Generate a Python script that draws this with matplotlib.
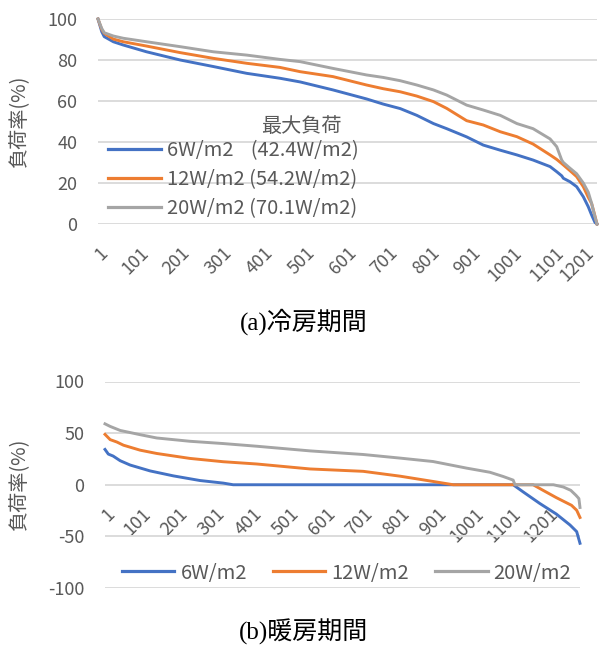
import matplotlib
matplotlib.use('Agg')
import matplotlib.pyplot as plt
from matplotlib.transforms import ScaledTranslation

plt.rcParams['font.family'] = ['Noto Sans CJK JP', 'DejaVu Sans']

# ---------------- data ----------------
series_names = ['6W/m2', '12W/m2', '20W/m2']
peak_loads = ['42.4W/m2', '54.2W/m2', '70.1W/m2']
legend_title = '最大負荷'
ylabel_text = '負荷率(%)'
title_cool = '(a)冷房期間'
title_heat = '(b)暖房期間'

# cooling period (sorted hours) ------------------------------------------
cool_n = 1203
cool_idx = [1, 10, 16, 38, 62, 118, 199, 279, 359, 439,
            488, 567, 648, 688, 729, 769, 809, 841, 889, 929,
            970, 1010, 1049, 1090, 1106, 1118, 1122, 1138, 1154, 1170,
            1182, 1190, 1198, 1203]
cool_6 = [100, 93.8, 91.4, 88.9, 87.3, 84, 80, 76.8, 73.5, 71.1,
          69.3, 65.4, 61, 58.5, 56.3, 53, 49, 46.5, 42.5, 38.5,
          36, 33.7, 31.2, 28, 25.5, 23.5, 22.3, 20.6, 18.2, 13.3,
          8.4, 4.4, 0.8, 0]
cool_12 = [100, 94.9, 93, 90.2, 88.9, 86.8, 83.6, 80.8, 78.4, 76.4,
           74.3, 71.9, 67.8, 66, 64.5, 62.4, 59.7, 56.4, 50.4, 48.3,
           45, 42.6, 39, 33.7, 31.5, 29.5, 28.8, 26, 23.1, 18.2,
           13, 10, 4, 0]
cool_20 = [100, 95.4, 93.3, 91.7, 90.6, 88.9, 86.5, 84, 82.4, 80.3,
           79.2, 75.9, 72.7, 71.5, 69.9, 67.8, 65.4, 62.9, 58, 55.6,
           53, 49, 46.5, 41.5, 37.7, 31.2, 30, 27.2, 24.5, 20,
           15.5, 10.1, 3.6, 0]
cool_yticks = [0, 20, 40, 60, 80, 100]
cool_xticklabels = ['1', '101', '201', '301', '401', '501', '601',
                    '701', '801', '901', '1001', '1101', '1201']

# heating period ----------------------------------------------------------
heat_n = 1287
heat6_idx = [1, 10, 23, 42, 69, 123, 186, 258, 321, 348,
             1106, 1133, 1178, 1223, 1260, 1278, 1287]
heat6_val = [34.2, 29.7, 27.8, 23.3, 19.1, 13.4, 8.6, 4.1, 1.6, 0,
             0, -6.9, -18.1, -28.4, -39, -45.4, -56.7]
heat12_idx = [1, 15, 33, 51, 96, 141, 231, 321, 412, 556,
              700, 800, 889, 944, 1160, 1187, 1223, 1264, 1278, 1287]
heat12_val = [48.8, 43.7, 41.4, 38.3, 33.5, 30.3, 25.5, 22.3, 20.1, 15.3,
              13, 8.3, 3.2, 0, 0, -5.4, -12.5, -19.9, -24.7, -31.7]
heat20_idx = [1, 15, 42, 96, 141, 231, 321, 412, 556, 700,
              800, 889, 980, 1043, 1079, 1106, 1111, 1215, 1242, 1262,
              1276, 1284, 1287]
heat20_val = [59, 56.5, 52.6, 48.5, 45.3, 42.1, 39.9, 37.3, 32.8, 29.3,
              25.8, 22.5, 16.1, 12.1, 8, 4.5, 0, 0, -2.2, -5.4,
              -10.2, -13.4, -22]
heat_yticks = [-100, -50, 0, 50, 100]
heat_xticklabels = cool_xticklabels

# ---------------- style ----------------
colors = ['#4472C4', '#ED7D31', '#A5A5A5']
text_col = '#595959'
grid_col = '#D9D9D9'
W, H = 600, 645
fs = 13
fs_leg = 14.5
fs_lab = 14.5
fs_title = 18
lw = 2.1
title_family = ['Liberation Serif', 'Noto Sans CJK JP']

fig = plt.figure(figsize=(W / 100, H / 100), dpi=100)


def px_axes(x0, x1, y0, y1):
    return fig.add_axes([x0 / W, 1 - y1 / H, (x1 - x0) / W, (y1 - y0) / H])


def style_axes(ax, yticks, xticklabels, n, last_dx):
    ax.set_yticks(yticks)
    ax.set_yticklabels([str(v) for v in yticks])
    ax.yaxis.grid(True, color=grid_col, linewidth=1.3)
    ax.set_axisbelow(True)
    for s in ax.spines.values():
        s.set_visible(False)
    xt = [int(t) for t in xticklabels]
    ax.set_xticks(xt)
    ax.set_xticklabels(xticklabels, rotation=45, ha='right', va='baseline',
                       rotation_mode='anchor')
    ax.set_xlim(1, n)
    ax.tick_params(axis='both', length=0, colors=text_col, labelsize=fs)
    ax.tick_params(axis='y', pad=15)
    ax.tick_params(axis='x', pad=21.5)
    ticks = ax.xaxis.get_major_ticks()
    for i, tk in enumerate(ticks):
        dx = last_dx if i == len(ticks) - 1 else 10
        tk.label1.set_transform(tk.label1.get_transform() +
                                ScaledTranslation(dx / 100, 0,
                                                  fig.dpi_scale_trans))


# ---------------- top: cooling ----------------
ax1 = px_axes(98, 597, 19, 224)
lines1 = []
for vals, c in zip([cool_6, cool_12, cool_20], colors):
    ln, = ax1.plot(cool_idx, vals, color=c, linewidth=lw, clip_on=False,
                   solid_joinstyle='round')
    lines1.append(ln)
ax1.set_ylim(0, 100)
style_axes(ax1, cool_yticks, cool_xticklabels, cool_n, -2)

labels1 = []
for nm, pk in zip(series_names, peak_loads):
    gap = '\u2007 ' if len(nm) < 6 else ' '
    labels1.append(f'{nm}{gap}({pk})')
leg1 = ax1.legend(lines1, labels1, loc='upper left',
                  bbox_to_anchor=(108 / W, 1 - 140 / H),
                  bbox_transform=fig.transFigure, frameon=False,
                  fontsize=fs_leg, handlelength=2.65, handletextpad=0.3,
                  labelspacing=0.40, borderpad=0, borderaxespad=0)
for t in leg1.get_texts():
    t.set_color(text_col)
for lh in leg1.get_lines():
    lh.set_linewidth(2.3)
fig.text(301 / W, 1 - 127 / H, legend_title, ha='center', va='center',
         color=text_col, fontsize=fs_leg)

fig.text(20 / W, 1 - 122 / H, ylabel_text, rotation=90, ha='center',
         va='center', color=text_col, fontsize=fs_lab)
fig.text(304 / W, 1 - 322 / H, title_cool, ha='center', va='center',
         fontsize=fs_title, family=title_family)

# ---------------- bottom: heating ----------------
ax2 = px_axes(105, 580, 381.5, 588)
ax2.spines['bottom'].set_position(('data', 0))
lines2 = []
for xs, vals, c in zip([heat6_idx, heat12_idx, heat20_idx],
                       [heat6_val, heat12_val, heat20_val], colors):
    ln, = ax2.plot(xs, vals, color=c, linewidth=lw, clip_on=False,
                   solid_joinstyle='round')
    lines2.append(ln)
ax2.set_ylim(-100, 100)
style_axes(ax2, heat_yticks, heat_xticklabels, heat_n, 10)

leg2 = ax2.legend(lines2, series_names, loc='center left', ncol=3,
                  bbox_to_anchor=(122 / W, 1 - 573 / H),
                  bbox_transform=fig.transFigure, frameon=False,
                  fontsize=fs_leg, handlelength=2.6, handletextpad=0.3,
                  columnspacing=1.3, borderpad=0, borderaxespad=0)
for t in leg2.get_texts():
    t.set_color(text_col)
for lh in leg2.get_lines():
    lh.set_linewidth(2.3)

fig.text(20 / W, 1 - 485 / H, ylabel_text, rotation=90, ha='center',
         va='center', color=text_col, fontsize=fs_lab)
fig.text(304 / W, 1 - 632 / H, title_heat, ha='center', va='center',
         fontsize=fs_title, family=title_family)

fig.savefig('out.png', dpi=100, facecolor='white')
